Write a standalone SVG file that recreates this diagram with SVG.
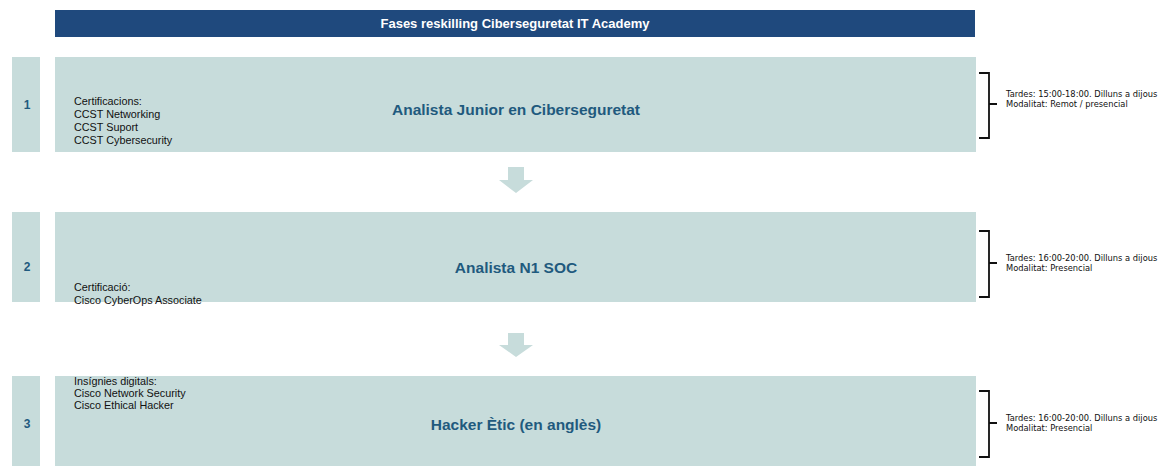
<svg xmlns="http://www.w3.org/2000/svg" width="1160" height="466" viewBox="0 0 1160 466">
<style>
.box{fill:#c7dcdb}
.num{font-family:"Liberation Sans",Arial,sans-serif;font-weight:bold;font-size:12px;fill:#1f5a7e;text-anchor:middle}
.ttl{font-family:"Liberation Sans",Arial,sans-serif;font-weight:bold;font-size:15.5px;fill:#1f5a7e;text-anchor:middle}
.lst{font-family:"Liberation Sans",Arial,sans-serif;font-size:10.8px;fill:#111}
.side{font-family:"DejaVu Sans",Verdana,sans-serif;font-size:8.3px;fill:#111}
.brk{fill:none;stroke:#111;stroke-width:1.8}
.arr{fill:#c7dcdb}
</style>
<rect width="1160" height="466" fill="#fff"/>
<g id="header">
<rect x="55" y="10" width="920" height="27" fill="#1f497d"/>
<text x="515" y="28" font-family="Liberation Sans,Arial,sans-serif" font-weight="bold" font-size="13" fill="#fff" text-anchor="middle">Fases reskilling Ciberseguretat IT Academy</text>
</g>
<g id="phase1">
<rect class="box" x="12" y="57" width="28" height="95"/>
<text class="num" x="27" y="109">1</text>
<rect class="box" x="55" y="57" width="921" height="95"/>
<text class="lst" x="74" y="105">Certificacions:</text>
<text class="lst" x="74" y="118">CCST Networking</text>
<text class="lst" x="74" y="131">CCST Suport</text>
<text class="lst" x="74" y="144">CCST Cybersecurity</text>
<text class="ttl" x="516" y="115">Analista Junior en Ciberseguretat</text>
</g>
<g id="note1">
<path class="brk" d="M979,73 H989 V138 H979 M989,104 H997"/>
<text class="side" x="1006" y="97">Tardes: 15:00-18:00. Dilluns a dijous</text>
<text class="side" x="1006" y="107">Modalitat: Remot / presencial</text>
</g>
<g id="phase2">
<rect class="box" x="12" y="212" width="28" height="90"/>
<text class="num" x="27" y="271">2</text>
<rect class="box" x="55" y="212" width="921" height="90"/>
<text class="lst" x="74" y="291">Certificació:</text>
<text class="lst" x="74" y="304">Cisco CyberOps Associate</text>
<text class="ttl" x="516" y="273">Analista N1 SOC</text>
</g>
<g id="note2">
<path class="brk" d="M979,231 H989 V297 H979 M989,263 H997"/>
<text class="side" x="1006" y="261">Tardes: 16:00-20:00. Dilluns a dijous</text>
<text class="side" x="1006" y="271">Modalitat: Presencial</text>
</g>
<g id="phase3">
<rect class="box" x="12" y="376" width="28" height="90"/>
<text class="num" x="27" y="428">3</text>
<rect class="box" x="55" y="376" width="921" height="90"/>
<text class="lst" x="74" y="385">Insígnies digitals:</text>
<text class="lst" x="74" y="397">Cisco Network Security</text>
<text class="lst" x="74" y="409">Cisco Ethical Hacker</text>
<text class="ttl" x="516" y="430">Hacker Ètic (en anglès)</text>
</g>
<g id="note3">
<path class="brk" d="M979,391 H989 V457 H979 M989,423 H997"/>
<text class="side" x="1006" y="421">Tardes: 16:00-20:00. Dilluns a dijous</text>
<text class="side" x="1006" y="431">Modalitat: Presencial</text>
</g>
<g id="connectors">
<path class="arr" d="M508,167 H524 V180 H533 L516,193 L499,180 H508 Z"/>
<path class="arr" d="M508,333 H524 V345 H533 L516,357 L499,345 H508 Z"/>
</g>
</svg>
